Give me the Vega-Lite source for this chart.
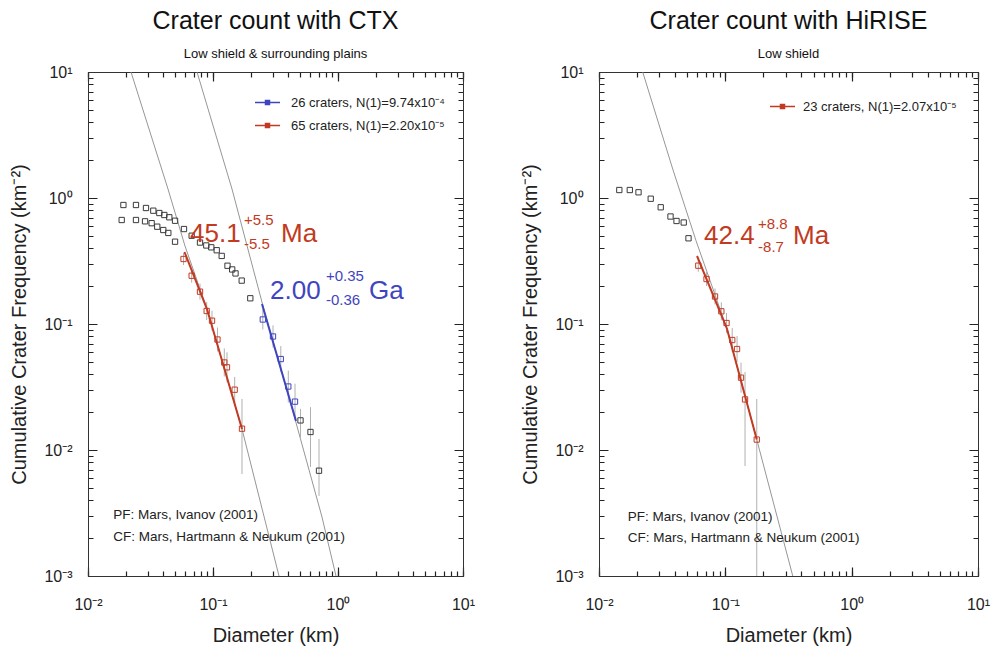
{
  "$schema": "https://vega.github.io/schema/vega-lite/v6.json",
  "background": "white",
  "padding": {"left": 9, "top": 8, "right": 0, "bottom": 0},
  "config": {
    "font": "Liberation Sans",
    "view": {"stroke": "#333", "strokeWidth": 1},
    "axis": {"domainColor": "#333", "labelColor": "#222", "titleColor": "#222", "labelFontSize": 16, "titleFontSize": 20, "titleFontWeight": "normal", "labelOverlap": false, "labelFlush": false, "labelBound": false},
    "title": {"fontSize": 25, "fontWeight": "normal", "subtitleFontSize": 13, "subtitlePadding": 14, "offset": 3, "color": "#111", "subtitleColor": "#111", "anchor": "middle"}
  },
  "spacing": 44,
  "resolve": {"scale": {"color": "independent"}, "legend": {"color": "independent"}},
  "datasets": {
    "ctx_pts": [
      {"D": 0.0192, "N": 0.880, "series": "black"}, {"D": 0.0242, "N": 0.880, "series": "black"}, {"D": 0.0291, "N": 0.833, "series": "black"}, {"D": 0.0333, "N": 0.793, "series": "black"}, {"D": 0.0372, "N": 0.760, "series": "black"}, {"D": 0.0408, "N": 0.733, "series": "black"}, {"D": 0.0447, "N": 0.703, "series": "black"}, {"D": 0.0497, "N": 0.660, "series": "black"}, {"D": 0.0586, "N": 0.567, "series": "black"}, {"D": 0.0675, "N": 0.502, "series": "black"}, {"D": 0.0787, "N": 0.443, "series": "black"}, {"D": 0.0884, "N": 0.420, "series": "black"}, {"D": 0.0969, "N": 0.406, "series": "black"}, {"D": 0.1071, "N": 0.385, "series": "black"}, {"D": 0.1174, "N": 0.347, "series": "black"}, {"D": 0.1306, "N": 0.290, "series": "black"}, {"D": 0.1424, "N": 0.271, "series": "black"}, {"D": 0.1514, "N": 0.252, "series": "black"}, {"D": 0.1697, "N": 0.221, "series": "black"}, {"D": 0.1988, "N": 0.160, "series": "black"},
      {"D": 0.0186, "N": 0.669, "series": "black"}, {"D": 0.0242, "N": 0.669, "series": "black"}, {"D": 0.0286, "N": 0.653, "series": "black"}, {"D": 0.0323, "N": 0.631, "series": "black"}, {"D": 0.0358, "N": 0.592, "series": "black"}, {"D": 0.0400, "N": 0.557, "series": "black"}, {"D": 0.0439, "N": 0.528, "series": "black"}, {"D": 0.0497, "N": 0.450, "series": "black"},
      {"D": 0.5012, "N": 0.01718, "series": "black"}, {"D": 0.6026, "N": 0.0139, "series": "black"}, {"D": 0.7047, "N": 0.00685, "series": "black"},
      {"D": 0.0581, "N": 0.328, "series": "65 craters, N(1)=2.20x10⁻⁵"}, {"D": 0.0675, "N": 0.2416, "series": "65 craters, N(1)=2.20x10⁻⁵"}, {"D": 0.0787, "N": 0.1805, "series": "65 craters, N(1)=2.20x10⁻⁵"}, {"D": 0.0890, "N": 0.1268, "series": "65 craters, N(1)=2.20x10⁻⁵"}, {"D": 0.0982, "N": 0.1062, "series": "65 craters, N(1)=2.20x10⁻⁵"}, {"D": 0.1086, "N": 0.0753, "series": "65 craters, N(1)=2.20x10⁻⁵"}, {"D": 0.1231, "N": 0.0495, "series": "65 craters, N(1)=2.20x10⁻⁵"}, {"D": 0.1294, "N": 0.0453, "series": "65 craters, N(1)=2.20x10⁻⁵"}, {"D": 0.1491, "N": 0.0301, "series": "65 craters, N(1)=2.20x10⁻⁵"}, {"D": 0.1706, "N": 0.01476, "series": "65 craters, N(1)=2.20x10⁻⁵"},
      {"D": 0.2503, "N": 0.1086, "series": "26 craters, N(1)=9.74x10⁻⁴"}, {"D": 0.302, "N": 0.0796, "series": "26 craters, N(1)=9.74x10⁻⁴"}, {"D": 0.3486, "N": 0.0527, "series": "26 craters, N(1)=9.74x10⁻⁴"}, {"D": 0.4003, "N": 0.0319, "series": "26 craters, N(1)=9.74x10⁻⁴"}, {"D": 0.4529, "N": 0.0242, "series": "26 craters, N(1)=9.74x10⁻⁴"}
    ],
    "ctx_err": [
      {"D": 0.0581, "lo": 0.294, "hi": 0.366}, {"D": 0.0675, "lo": 0.2125, "hi": 0.2747}, {"D": 0.0787, "lo": 0.156, "hi": 0.209}, {"D": 0.0890, "lo": 0.1075, "hi": 0.1495}, {"D": 0.0982, "lo": 0.0885, "hi": 0.1274}, {"D": 0.1086, "lo": 0.0605, "hi": 0.0937}, {"D": 0.1231, "lo": 0.0383, "hi": 0.064}, {"D": 0.1294, "lo": 0.0344, "hi": 0.0596}, {"D": 0.1491, "lo": 0.0232, "hi": 0.038}, {"D": 0.1706, "lo": 0.00645, "hi": 0.0254},
      {"D": 0.2503, "lo": 0.0905, "hi": 0.1303}, {"D": 0.302, "lo": 0.065, "hi": 0.0975}, {"D": 0.3486, "lo": 0.0416, "hi": 0.0668}, {"D": 0.4003, "lo": 0.0238, "hi": 0.0427}, {"D": 0.4529, "lo": 0.0174, "hi": 0.0336},
      {"D": 0.5012, "lo": 0.01223, "hi": 0.0212}, {"D": 0.6026, "lo": 0.00733, "hi": 0.0219}, {"D": 0.7047, "lo": 0.00432, "hi": 0.01222}
    ],
    "ctx_iso": [
      {"iso": "a", "D": 0.02208, "N": 10}, {"iso": "a", "D": 0.04365, "N": 1.179}, {"iso": "a", "D": 0.0597, "N": 0.416}, {"iso": "a", "D": 0.0895, "N": 0.1315}, {"iso": "a", "D": 0.1706, "N": 0.01468}, {"iso": "a", "D": 0.3373, "N": 0.001},
      {"iso": "b", "D": 0.0745, "N": 10}, {"iso": "b", "D": 0.1419, "N": 1.179}, {"iso": "b", "D": 0.2512, "N": 0.139}, {"iso": "b", "D": 0.4529, "N": 0.01762}, {"iso": "b", "D": 0.7447, "N": 0.00294}, {"iso": "b", "D": 0.9638, "N": 0.001}
    ],
    "ctx_fit": [
      {"series": "65 craters, N(1)=2.20x10⁻⁵", "D": 0.05916, "N": 0.3728}, {"series": "65 craters, N(1)=2.20x10⁻⁵", "D": 0.0895, "N": 0.1315}, {"series": "65 craters, N(1)=2.20x10⁻⁵", "D": 0.1706, "N": 0.01468},
      {"series": "26 craters, N(1)=9.74x10⁻⁴", "D": 0.2466, "N": 0.144}, {"series": "26 craters, N(1)=9.74x10⁻⁴", "D": 0.4613, "N": 0.01699}
    ],
    "ctx_big": [
      {"D": 0.06546, "N": 0.4475, "t": "45.1", "series": "65 craters, N(1)=2.20x10⁻⁵"}, {"D": 0.35, "N": 0.4475, "t": "Ma", "series": "65 craters, N(1)=2.20x10⁻⁵"},
      {"D": 0.2858, "N": 0.1579, "t": "2.00", "series": "26 craters, N(1)=9.74x10⁻⁴"}, {"D": 1.77, "N": 0.1579, "t": "Ga", "series": "26 craters, N(1)=9.74x10⁻⁴"}
    ],
    "ctx_small": [
      {"D": 0.177, "N": 0.6105, "t": "+5.5", "series": "65 craters, N(1)=2.20x10⁻⁵"}, {"D": 0.177, "N": 0.3937, "t": "-5.5", "series": "65 craters, N(1)=2.20x10⁻⁵"},
      {"D": 0.8017, "N": 0.2195, "t": "+0.35", "series": "26 craters, N(1)=9.74x10⁻⁴"}, {"D": 0.8017, "N": 0.1415, "t": "-0.36", "series": "26 craters, N(1)=9.74x10⁻⁴"}
    ],
    "ctx_ref": [
      {"D": 0.01593, "N": 0.002834, "t": "PF: Mars, Ivanov (2001)"}, {"D": 0.01593, "N": 0.001906, "t": "CF: Mars, Hartmann & Neukum (2001)"}
    ],
    "hi_pts": [
      {"D": 0.01448, "N": 1.157, "series": "black"}, {"D": 0.01753, "N": 1.157, "series": "black"}, {"D": 0.02055, "N": 1.110, "series": "black"}, {"D": 0.02567, "N": 0.987, "series": "black"}, {"D": 0.0308, "N": 0.844, "series": "black"}, {"D": 0.03682, "N": 0.713, "series": "black"}, {"D": 0.04108, "N": 0.657, "series": "black"}, {"D": 0.04684, "N": 0.639, "series": "black"}, {"D": 0.05111, "N": 0.479, "series": "black"},
      {"D": 0.0611, "N": 0.2903, "series": "23 craters, N(1)=2.07x10⁻⁵"}, {"D": 0.07099, "N": 0.2276, "series": "23 craters, N(1)=2.07x10⁻⁵"}, {"D": 0.08287, "N": 0.1653, "series": "23 craters, N(1)=2.07x10⁻⁵"}, {"D": 0.09296, "N": 0.1261, "series": "23 craters, N(1)=2.07x10⁻⁵"}, {"D": 0.1022, "N": 0.1018, "series": "23 craters, N(1)=2.07x10⁻⁵"}, {"D": 0.1134, "N": 0.0746, "series": "23 craters, N(1)=2.07x10⁻⁵"}, {"D": 0.1238, "N": 0.0633, "series": "23 craters, N(1)=2.07x10⁻⁵"}, {"D": 0.1331, "N": 0.0375, "series": "23 craters, N(1)=2.07x10⁻⁵"}, {"D": 0.1432, "N": 0.0252, "series": "23 craters, N(1)=2.07x10⁻⁵"}, {"D": 0.1773, "N": 0.0121, "series": "23 craters, N(1)=2.07x10⁻⁵"}
    ],
    "hi_err": [
      {"D": 0.0611, "lo": 0.26, "hi": 0.324}, {"D": 0.07099, "lo": 0.2002, "hi": 0.2588}, {"D": 0.08287, "lo": 0.1429, "hi": 0.1913}, {"D": 0.09296, "lo": 0.107, "hi": 0.1487}, {"D": 0.1022, "lo": 0.0848, "hi": 0.1222}, {"D": 0.1134, "lo": 0.0599, "hi": 0.0929}, {"D": 0.1238, "lo": 0.0499, "hi": 0.0803}, {"D": 0.1331, "lo": 0.0285, "hi": 0.0493}, {"D": 0.1432, "lo": 0.00746, "hi": 0.0416}, {"D": 0.1773, "lo": 0.001, "hi": 0.0254}
    ],
    "hi_iso": [
      {"iso": "a", "D": 0.02218, "N": 10}, {"iso": "a", "D": 0.03833, "N": 1.699}, {"iso": "a", "D": 0.05861, "N": 0.458}, {"iso": "a", "D": 0.1032, "N": 0.0913}, {"iso": "a", "D": 0.1773, "N": 0.0121}, {"iso": "a", "D": 0.3418, "N": 0.001}
    ],
    "hi_fit": [
      {"series": "23 craters, N(1)=2.07x10⁻⁵", "D": 0.0597, "N": 0.3465}, {"series": "23 craters, N(1)=2.07x10⁻⁵", "D": 0.1032, "N": 0.0913}, {"series": "23 craters, N(1)=2.07x10⁻⁵", "D": 0.1773, "N": 0.0121}
    ],
    "hi_big": [
      {"D": 0.06783, "N": 0.4315, "t": "42.4", "series": "23 craters, N(1)=2.07x10⁻⁵"}, {"D": 0.3436, "N": 0.4315, "t": "Ma", "series": "23 craters, N(1)=2.07x10⁻⁵"}
    ],
    "hi_small": [
      {"D": 0.1815, "N": 0.5675, "t": "+8.8", "series": "23 craters, N(1)=2.07x10⁻⁵"}, {"D": 0.1815, "N": 0.3728, "t": "-8.7", "series": "23 craters, N(1)=2.07x10⁻⁵"}
    ],
    "hi_ref": [
      {"D": 0.01687, "N": 0.002748, "t": "PF: Mars, Ivanov (2001)"}, {"D": 0.01687, "N": 0.001872, "t": "CF: Mars, Hartmann & Neukum (2001)"}
    ]
  },
  "hconcat": [
    {
      "width": 375, "height": 504,
      "title": {"text": "Crater count with CTX", "subtitle": "Low shield & surrounding plains"},
      "resolve": {"axis": {"x": "independent", "y": "independent"}},
      "layer": [
        {
          "data": {"name": "ctx_iso"},
          "mark": {"type": "line", "color": "#8a8a8a", "strokeWidth": 0.9, "clip": true},
          "encoding": {
            "x": {"field": "D", "type": "quantitative", "scale": {"type": "log", "domain": [0.01, 10], "nice": false},
              "axis": {"orient": "bottom", "values": [0.01, 0.1, 1, 10],
                "labelExpr": "datum.value>0.0099&&datum.value<0.0101?'10⁻²':datum.value>0.099&&datum.value<0.101?'10⁻¹':datum.value>0.99&&datum.value<1.01?'10⁰':datum.value>9.9&&datum.value<10.1?'10¹':''",
                "grid": true, "gridColor": "#222", "gridWidth": 1.2, "gridDash": [9, 486, 9], "tickOpacity": 0,
                "labelPadding": 15, "title": "Diameter (km)", "titlePadding": 13}},
            "y": {"field": "N", "type": "quantitative", "scale": {"type": "log", "domain": [0.001, 10], "nice": false},
              "axis": {"orient": "left", "values": [0.001, 0.01, 0.1, 1, 10],
                "labelExpr": "datum.value>0.00099&&datum.value<0.00101?'10⁻³':datum.value>0.0099&&datum.value<0.0101?'10⁻²':datum.value>0.099&&datum.value<0.101?'10⁻¹':datum.value>0.99&&datum.value<1.01?'10⁰':datum.value>9.9&&datum.value<10.1?'10¹':''",
                "grid": true, "gridColor": "#222", "gridWidth": 1.2, "gridDash": [9, 357, 9], "tickOpacity": 0,
                "labelPadding": 11, "title": "Cumulative Crater Frequency (km⁻²)", "titlePadding": 14}},
            "detail": {"field": "iso", "type": "nominal"}
          }
        },
        {
          "data": {"name": "ctx_err"},
          "mark": {"type": "rule", "color": "#b0b0b0", "strokeWidth": 1, "clip": true},
          "encoding": {
            "x": {"field": "D", "type": "quantitative",
              "axis": {"orient": "top", "values": [0.01,0.02,0.03,0.04,0.05,0.06,0.07,0.08,0.09,0.1,0.2,0.3,0.4,0.5,0.6,0.7,0.8,0.9,1,2,3,4,5,6,7,8,9,10], "labels": false, "title": null,
                "grid": true, "gridColor": "#222", "gridWidth": 1.2, "gridDash": [5, 494, 5], "tickOpacity": 0}},
            "y": {"field": "lo", "type": "quantitative",
              "axis": {"orient": "right", "values": [0.001,0.002,0.003,0.004,0.005,0.006,0.007,0.008,0.009,0.01,0.02,0.03,0.04,0.05,0.06,0.07,0.08,0.09,0.1,0.2,0.3,0.4,0.5,0.6,0.7,0.8,0.9,1,2,3,4,5,6,7,8,9,10], "labels": false, "title": null,
                "grid": true, "gridColor": "#222", "gridWidth": 1.2, "gridDash": [5, 365, 5], "tickOpacity": 0}},
            "y2": {"field": "hi"}
          }
        },
        {
          "data": {"name": "ctx_fit"},
          "mark": {"type": "line", "strokeWidth": 2, "clip": true},
          "encoding": {
            "x": {"field": "D", "type": "quantitative", "axis": null},
            "y": {"field": "N", "type": "quantitative", "axis": null},
            "color": {"field": "series", "type": "nominal",
              "scale": {"domain": ["26 craters, N(1)=9.74x10⁻⁴", "65 craters, N(1)=2.20x10⁻⁵"], "range": ["#3f45c0", "#c23a22"]},
              "legend": {"orient": "none", "legendX": 166, "legendY": 17, "title": null, "symbolType": "M-1,0H-0.16M0.16,0H1M-0.16,-0.16H0.16V0.16H-0.16Z", "symbolSize": 625, "symbolStrokeWidth": 1.5, "labelFontSize": 13, "labelOffset": 10, "rowPadding": 2, "padding": 0, "labelColor": "#222", "labelLimit": 300}}
          }
        },
        {
          "data": {"name": "ctx_pts"},
          "transform": [{"filter": "datum.series == 'black'"}],
          "mark": {"type": "point", "shape": "square", "filled": false, "size": 28, "strokeWidth": 1, "color": "#3a3a3a", "opacity": 1},
          "encoding": {
            "x": {"field": "D", "type": "quantitative", "axis": null},
            "y": {"field": "N", "type": "quantitative", "axis": null}
          }
        },
        {
          "data": {"name": "ctx_pts"},
          "transform": [{"filter": "datum.series != 'black'"}],
          "mark": {"type": "point", "shape": "square", "filled": false, "size": 28, "strokeWidth": 1, "opacity": 1},
          "encoding": {
            "x": {"field": "D", "type": "quantitative", "axis": null},
            "y": {"field": "N", "type": "quantitative", "axis": null},
            "color": {"field": "series", "type": "nominal", "legend": null}
          }
        },
        {
          "data": {"name": "ctx_big"},
          "mark": {"type": "text", "align": "left", "baseline": "alphabetic", "fontSize": 26},
          "encoding": {
            "x": {"field": "D", "type": "quantitative", "axis": null},
            "y": {"field": "N", "type": "quantitative", "axis": null},
            "text": {"field": "t"},
            "color": {"field": "series", "type": "nominal", "legend": null}
          }
        },
        {
          "data": {"name": "ctx_small"},
          "mark": {"type": "text", "align": "left", "baseline": "alphabetic", "fontSize": 15},
          "encoding": {
            "x": {"field": "D", "type": "quantitative", "axis": null},
            "y": {"field": "N", "type": "quantitative", "axis": null},
            "text": {"field": "t"},
            "color": {"field": "series", "type": "nominal", "legend": null}
          }
        },
        {
          "data": {"name": "ctx_ref"},
          "mark": {"type": "text", "align": "left", "baseline": "alphabetic", "fontSize": 13.5, "color": "#222"},
          "encoding": {
            "x": {"field": "D", "type": "quantitative", "axis": null},
            "y": {"field": "N", "type": "quantitative", "axis": null},
            "text": {"field": "t"}
          }
        }
      ]
    },
    {
      "width": 379, "height": 504,
      "title": {"text": "Crater count with HiRISE", "subtitle": "Low shield"},
      "resolve": {"axis": {"x": "independent", "y": "independent"}},
      "layer": [
        {
          "data": {"name": "hi_iso"},
          "mark": {"type": "line", "color": "#8a8a8a", "strokeWidth": 0.9, "clip": true},
          "encoding": {
            "x": {"field": "D", "type": "quantitative", "scale": {"type": "log", "domain": [0.01, 10], "nice": false},
              "axis": {"orient": "bottom", "values": [0.01, 0.1, 1, 10],
                "labelExpr": "datum.value>0.0099&&datum.value<0.0101?'10⁻²':datum.value>0.099&&datum.value<0.101?'10⁻¹':datum.value>0.99&&datum.value<1.01?'10⁰':datum.value>9.9&&datum.value<10.1?'10¹':''",
                "grid": true, "gridColor": "#222", "gridWidth": 1.2, "gridDash": [9, 486, 9], "tickOpacity": 0,
                "labelPadding": 15, "title": "Diameter (km)", "titlePadding": 13}},
            "y": {"field": "N", "type": "quantitative", "scale": {"type": "log", "domain": [0.001, 10], "nice": false},
              "axis": {"orient": "left", "values": [0.001, 0.01, 0.1, 1, 10],
                "labelExpr": "datum.value>0.00099&&datum.value<0.00101?'10⁻³':datum.value>0.0099&&datum.value<0.0101?'10⁻²':datum.value>0.099&&datum.value<0.101?'10⁻¹':datum.value>0.99&&datum.value<1.01?'10⁰':datum.value>9.9&&datum.value<10.1?'10¹':''",
                "grid": true, "gridColor": "#222", "gridWidth": 1.2, "gridDash": [9, 361, 9], "tickOpacity": 0,
                "labelPadding": 11, "title": "Cumulative Crater Frequency (km⁻²)", "titlePadding": 14}},
            "detail": {"field": "iso", "type": "nominal"}
          }
        },
        {
          "data": {"name": "hi_err"},
          "mark": {"type": "rule", "color": "#b0b0b0", "strokeWidth": 1, "clip": true},
          "encoding": {
            "x": {"field": "D", "type": "quantitative",
              "axis": {"orient": "top", "values": [0.01,0.02,0.03,0.04,0.05,0.06,0.07,0.08,0.09,0.1,0.2,0.3,0.4,0.5,0.6,0.7,0.8,0.9,1,2,3,4,5,6,7,8,9,10], "labels": false, "title": null,
                "grid": true, "gridColor": "#222", "gridWidth": 1.2, "gridDash": [5, 494, 5], "tickOpacity": 0}},
            "y": {"field": "lo", "type": "quantitative",
              "axis": {"orient": "right", "values": [0.001,0.002,0.003,0.004,0.005,0.006,0.007,0.008,0.009,0.01,0.02,0.03,0.04,0.05,0.06,0.07,0.08,0.09,0.1,0.2,0.3,0.4,0.5,0.6,0.7,0.8,0.9,1,2,3,4,5,6,7,8,9,10], "labels": false, "title": null,
                "grid": true, "gridColor": "#222", "gridWidth": 1.2, "gridDash": [5, 369, 5], "tickOpacity": 0}},
            "y2": {"field": "hi"}
          }
        },
        {
          "data": {"name": "hi_fit"},
          "mark": {"type": "line", "strokeWidth": 2, "clip": true},
          "encoding": {
            "x": {"field": "D", "type": "quantitative", "axis": null},
            "y": {"field": "N", "type": "quantitative", "axis": null},
            "color": {"field": "series", "type": "nominal",
              "scale": {"domain": ["23 craters, N(1)=2.07x10⁻⁵"], "range": ["#c23a22"]},
              "legend": {"orient": "none", "legendX": 170, "legendY": 21, "title": null, "symbolType": "M-1,0H-0.16M0.16,0H1M-0.16,-0.16H0.16V0.16H-0.16Z", "symbolSize": 625, "symbolStrokeWidth": 1.5, "labelFontSize": 13, "labelOffset": 7, "padding": 0, "labelColor": "#222", "labelLimit": 300}}
          }
        },
        {
          "data": {"name": "hi_pts"},
          "transform": [{"filter": "datum.series == 'black'"}],
          "mark": {"type": "point", "shape": "square", "filled": false, "size": 28, "strokeWidth": 1, "color": "#3a3a3a", "opacity": 1},
          "encoding": {
            "x": {"field": "D", "type": "quantitative", "axis": null},
            "y": {"field": "N", "type": "quantitative", "axis": null}
          }
        },
        {
          "data": {"name": "hi_pts"},
          "transform": [{"filter": "datum.series != 'black'"}],
          "mark": {"type": "point", "shape": "square", "filled": false, "size": 28, "strokeWidth": 1, "opacity": 1},
          "encoding": {
            "x": {"field": "D", "type": "quantitative", "axis": null},
            "y": {"field": "N", "type": "quantitative", "axis": null},
            "color": {"field": "series", "type": "nominal", "legend": null}
          }
        },
        {
          "data": {"name": "hi_big"},
          "mark": {"type": "text", "align": "left", "baseline": "alphabetic", "fontSize": 26},
          "encoding": {
            "x": {"field": "D", "type": "quantitative", "axis": null},
            "y": {"field": "N", "type": "quantitative", "axis": null},
            "text": {"field": "t"},
            "color": {"field": "series", "type": "nominal", "legend": null}
          }
        },
        {
          "data": {"name": "hi_small"},
          "mark": {"type": "text", "align": "left", "baseline": "alphabetic", "fontSize": 15},
          "encoding": {
            "x": {"field": "D", "type": "quantitative", "axis": null},
            "y": {"field": "N", "type": "quantitative", "axis": null},
            "text": {"field": "t"},
            "color": {"field": "series", "type": "nominal", "legend": null}
          }
        },
        {
          "data": {"name": "hi_ref"},
          "mark": {"type": "text", "align": "left", "baseline": "alphabetic", "fontSize": 13.5, "color": "#222"},
          "encoding": {
            "x": {"field": "D", "type": "quantitative", "axis": null},
            "y": {"field": "N", "type": "quantitative", "axis": null},
            "text": {"field": "t"}
          }
        }
      ]
    }
  ]
}
